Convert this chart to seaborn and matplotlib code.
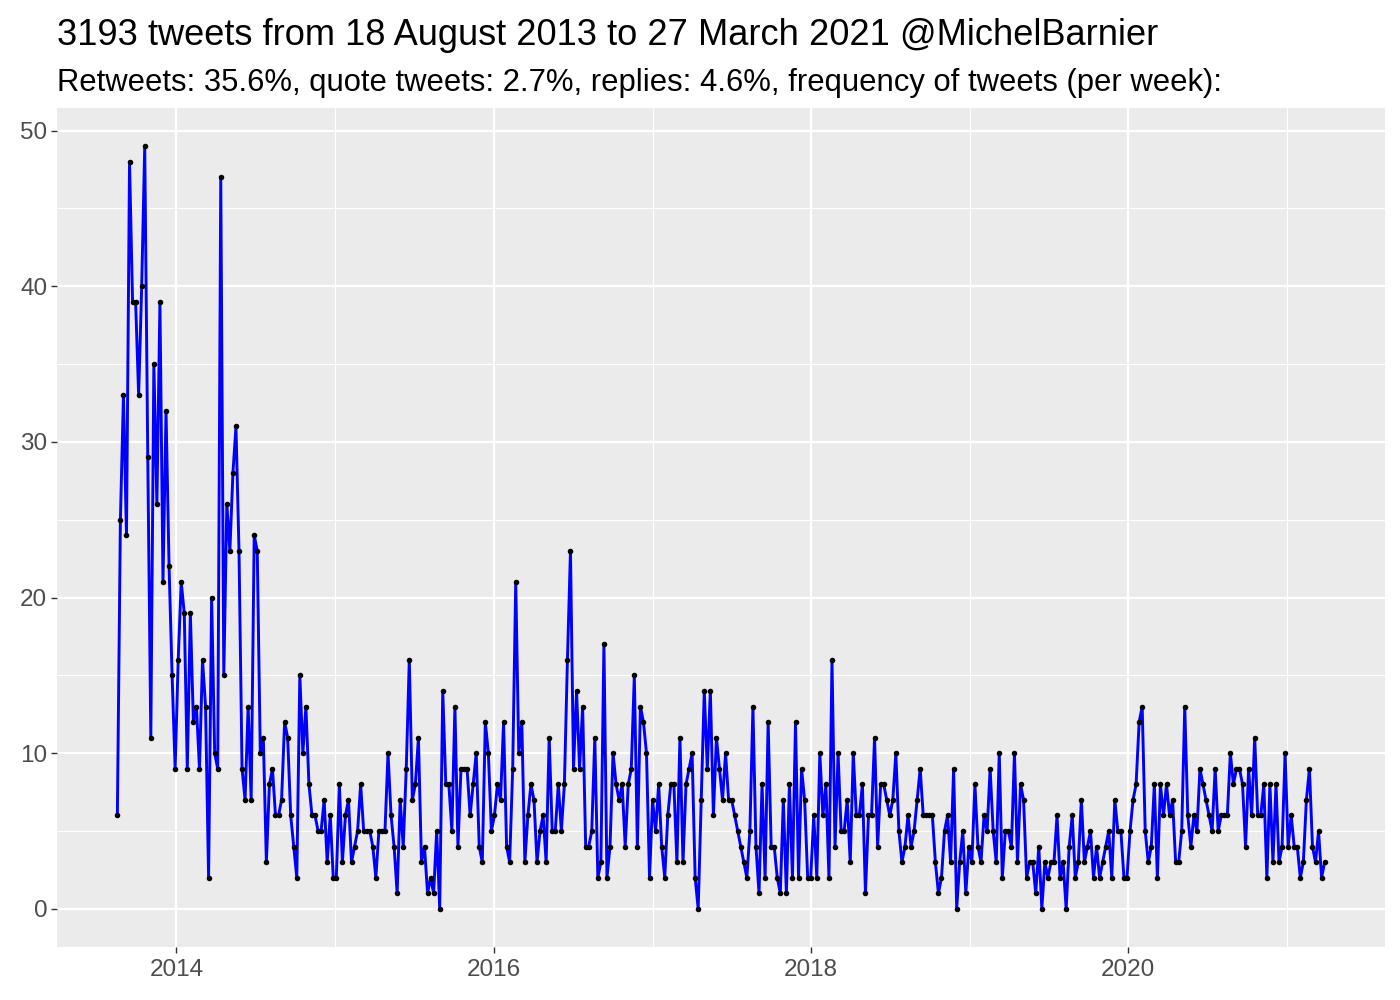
import pandas as pd
import matplotlib
matplotlib.use("Agg")
import matplotlib.pyplot as plt
import seaborn as sns

TITLE = "3193 tweets from 18 August 2013 to 27 March 2021 @MichelBarnier"
SUBTITLE = ("Retweets: 35.6%, quote tweets: 2.7%, replies: 4.6%, "
            "frequency of tweets (per week):")

FIRST_WEEK = "2013-08-18"

# tweets per week
weekly_counts = [
    6, 25, 33, 24, 48, 39, 39, 33, 40, 49, 29, 11, 35, 26, 39, 21, 32, 22, 15, 9,
    16, 21, 19, 9, 19, 12, 13, 9, 16, 13, 2, 20, 10,
    9, 47, 15, 26, 23, 28, 31, 23, 9, 7, 13, 7, 24, 23, 10, 11, 3, 8, 9, 6, 6,
    7, 12, 11, 6, 4, 2, 15, 10, 13, 8, 6, 6,
    5, 5, 7, 3, 6, 2, 2, 8, 3, 6, 7, 3, 4, 5, 8, 5, 5, 5, 4, 2, 5, 5, 5, 10,
    6, 4, 1, 7, 4, 9, 16, 7, 8, 11, 3,
    4, 1, 2, 1, 5, 0, 14, 8, 8, 5, 13, 4, 9, 9, 9, 6, 8, 10, 4, 3, 12, 10, 5, 6,
    8, 7, 12, 4, 3, 9, 21, 10, 12, 3,
    6, 8, 7, 3, 5, 6, 3, 11, 5, 5, 8, 5, 8, 16, 23, 9, 14, 9, 13, 4, 4, 5, 11, 2,
    3, 17, 2, 4, 10, 8, 7, 8, 4, 8, 9,
    15, 4, 13, 12, 10, 2, 7, 5, 8, 4, 2, 6, 8, 8, 3, 11, 3, 8, 9, 10, 2, 0, 7, 14,
    9, 14, 6, 11, 9, 7, 10, 7, 7, 6, 5,
    4, 3, 2, 5, 13, 4, 1, 8, 2, 12, 4, 4, 2, 1, 7, 1, 8, 2, 12, 2, 9, 7, 2, 2,
    6, 2, 10, 6, 8, 2, 16, 4, 10, 5,
    5, 7, 3, 10, 6, 6, 8, 1, 6, 6, 11, 4, 8, 8, 7, 6, 7, 10, 5, 3, 4, 6, 4, 5,
    7, 9, 6, 6, 6, 6, 3, 1, 2, 5, 6,
    3, 9, 0, 3, 5, 1, 4, 3, 8, 4, 3, 6, 5, 9, 5, 3, 10, 2, 5, 5, 4, 10, 3, 8,
    7, 2, 3, 3, 1, 4, 0, 3, 2, 3,
    3, 6, 2, 3, 0, 4, 6, 2, 3, 7, 3, 4, 5, 2, 4, 2, 3, 4, 5, 2, 7, 5, 5, 2,
    2, 5, 7, 8, 12, 13, 5, 3, 4, 8, 2,
    8, 6, 8, 6, 7, 3, 3, 5, 13, 6, 4, 6, 5, 9, 8, 7, 6, 5, 9, 5, 6, 6, 6, 10,
    8, 9, 9, 8, 4, 9, 6, 11,
    6, 6, 8, 2, 8, 3, 8, 3, 4, 10, 4, 6, 4, 4, 2, 3, 7, 9, 4, 3, 5, 2, 3,
]

year_ticks = [2014, 2016, 2018, 2020]
minor_year_ticks = [2015, 2017, 2019, 2021]
y_ticks = [0, 10, 20, 30, 40, 50]
y_minor_ticks = [5, 15, 25, 35, 45]


def build_frame():
    weeks = pd.date_range(FIRST_WEEK, periods=len(weekly_counts), freq="7D")
    return pd.DataFrame({"week": weeks, "tweets": weekly_counts})


def make_plot(df):
    sns.set_theme(style="darkgrid", rc={
        "axes.facecolor": "#EBEBEB",
        "grid.color": "white",
    })
    plt.rcParams["font.family"] = ["Liberation Sans", "DejaVu Sans"]

    fig, ax = plt.subplots(figsize=(14, 10), dpi=100)
    fig.subplots_adjust(left=57 / 1400, right=1385 / 1400, top=0.892, bottom=0.053)

    sns.lineplot(data=df, x="week", y="tweets", color="blue", linewidth=2.1, ax=ax)
    sns.scatterplot(data=df, x="week", y="tweets", color="black", s=16,
                    linewidth=0, ax=ax, zorder=3)

    ax.margins(x=0.05, y=0.05)

    ax.set_xticks([pd.Timestamp(f"{y}-01-01") for y in year_ticks])
    ax.set_xticklabels([str(y) for y in year_ticks])
    ax.set_xticks([pd.Timestamp(f"{y}-01-01") for y in minor_year_ticks], minor=True)
    ax.set_yticks(y_ticks)
    ax.set_yticklabels([str(v) for v in y_ticks])
    ax.set_yticks(y_minor_ticks, minor=True)

    ax.grid(which="major", color="white", linewidth=1.6)
    ax.grid(which="minor", color="white", linewidth=0.8)
    ax.set_axisbelow(True)

    ax.tick_params(which="major", bottom=True, left=True, length=4, width=1,
                   color="#333333", labelcolor="#4D4D4D", labelsize=17.5, pad=3)
    ax.tick_params(axis="x", which="major", pad=5)
    ax.tick_params(which="minor", length=0)

    for spine in ax.spines.values():
        spine.set_visible(False)

    ax.set_xlabel("")
    ax.set_ylabel("")

    fig.text(57 / 1400, 0.955, TITLE, fontsize=26.1, color="black", ha="left",
             va="baseline")
    fig.text(57 / 1400, 0.909, SUBTITLE, fontsize=22.3, color="black", ha="left",
             va="baseline")

    fig.savefig("out.png", dpi=100)
    plt.close(fig)


def main():
    df = build_frame()
    make_plot(df)


if __name__ == "__main__":
    main()
